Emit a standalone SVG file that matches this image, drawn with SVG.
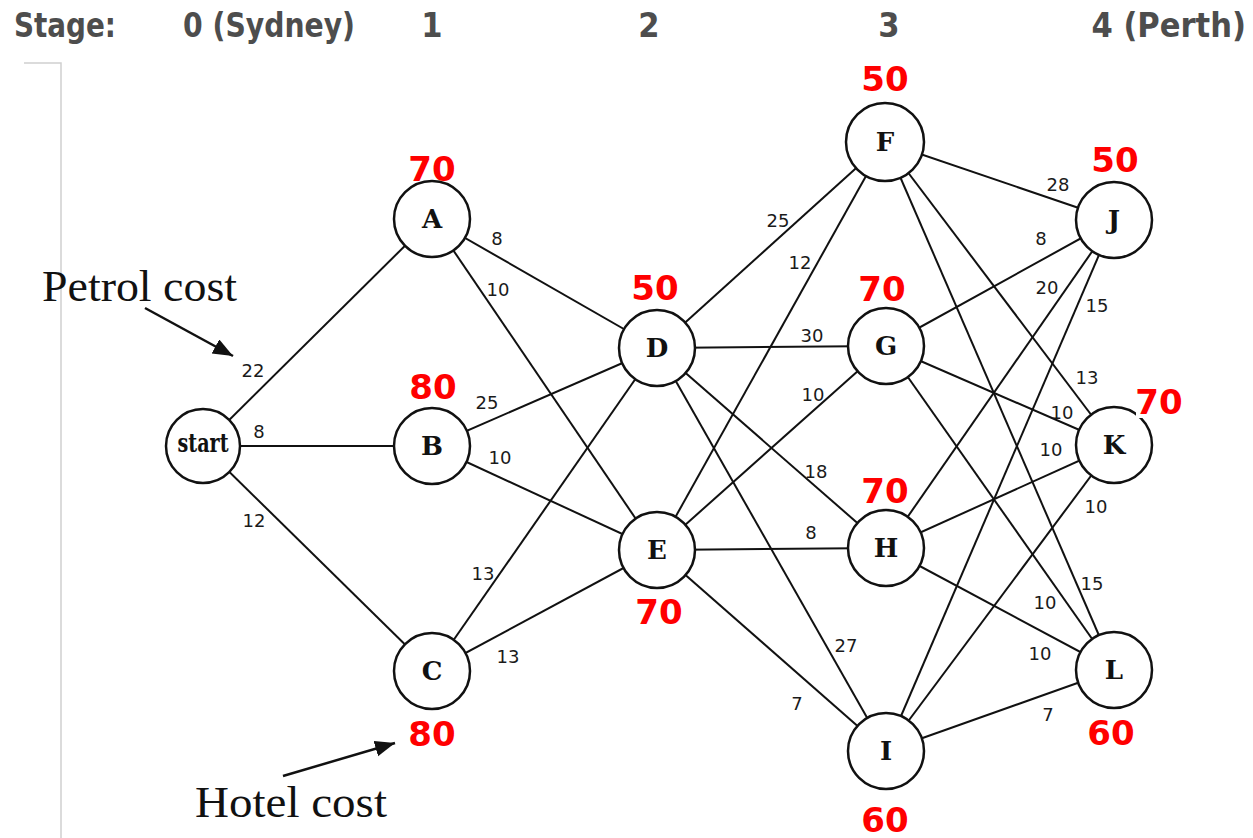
<svg xmlns="http://www.w3.org/2000/svg" width="1253" height="838" viewBox="0 0 1253 838">
<defs>
<style>
.hdr{font-family:"DejaVu Sans Condensed","DejaVu Sans","Liberation Sans",sans-serif;font-weight:bold;font-size:34px;fill:#4d4d4d}
.edge{stroke:#111;stroke-width:2;fill:none}
.node{fill:#fff;stroke:#111;stroke-width:2.5}
.nl{font-family:"DejaVu Serif","Liberation Serif",serif;font-weight:bold;font-size:26px;fill:#111;text-anchor:middle}
.wl{font-family:"DejaVu Sans","Liberation Sans",sans-serif;font-size:18px;fill:#1a1a1a;text-anchor:middle}
.cost{font-family:"DejaVu Sans","Liberation Sans",sans-serif;font-weight:bold;font-size:34px;fill:#ff0000;text-anchor:middle}
.note{font-family:"Liberation Serif","DejaVu Serif",serif;font-size:44px;fill:#111}
</style>
<marker id="ah" markerUnits="userSpaceOnUse" markerWidth="22" markerHeight="18" refX="20" refY="8" orient="auto">
<path d="M0,0 L20,8 L0,16 Z" fill="#111"/>
</marker>
</defs>
<rect width="1253" height="838" fill="#fff"/>
<g id="frame">
<polyline points="24,63 61,63 61,838" fill="none" stroke="#d0d0d0" stroke-width="1.5"/>
</g>
<g id="header">
<text class="hdr" x="14" y="37" textLength="102" lengthAdjust="spacingAndGlyphs">Stage:</text>
<text class="hdr" x="183" y="37" textLength="172" lengthAdjust="spacingAndGlyphs">0 (Sydney)</text>
<text class="hdr" x="432" y="37" text-anchor="middle">1</text>
<text class="hdr" x="649" y="37" text-anchor="middle">2</text>
<text class="hdr" x="889" y="37" text-anchor="middle">3</text>
<text class="hdr" x="1246" y="37" text-anchor="end" font-size="31">4 (Perth)</text>
</g>
<g id="connectors">
<line class="edge" x1="203" y1="446" x2="432" y2="219"/>
<line class="edge" x1="203" y1="446" x2="432" y2="446"/>
<line class="edge" x1="203" y1="446" x2="432" y2="671"/>
<line class="edge" x1="432" y1="219" x2="657" y2="348"/>
<line class="edge" x1="432" y1="219" x2="657" y2="550"/>
<line class="edge" x1="432" y1="446" x2="657" y2="348"/>
<line class="edge" x1="432" y1="446" x2="657" y2="550"/>
<line class="edge" x1="432" y1="671" x2="657" y2="348"/>
<line class="edge" x1="432" y1="671" x2="657" y2="550"/>
<line class="edge" x1="657" y1="348" x2="885" y2="142"/>
<line class="edge" x1="657" y1="550" x2="885" y2="142"/>
<line class="edge" x1="657" y1="348" x2="886" y2="346"/>
<line class="edge" x1="657" y1="550" x2="886" y2="346"/>
<line class="edge" x1="657" y1="348" x2="886" y2="548"/>
<line class="edge" x1="657" y1="550" x2="886" y2="548"/>
<line class="edge" x1="657" y1="348" x2="886" y2="751"/>
<line class="edge" x1="657" y1="550" x2="886" y2="751"/>
<line class="edge" x1="885" y1="142" x2="1114" y2="220"/>
<line class="edge" x1="886" y1="346" x2="1114" y2="220"/>
<line class="edge" x1="886" y1="548" x2="1114" y2="220"/>
<line class="edge" x1="886" y1="751" x2="1114" y2="220"/>
<line class="edge" x1="885" y1="142" x2="1114" y2="445"/>
<line class="edge" x1="886" y1="346" x2="1114" y2="445"/>
<line class="edge" x1="886" y1="548" x2="1114" y2="445"/>
<line class="edge" x1="886" y1="751" x2="1114" y2="445"/>
<line class="edge" x1="885" y1="142" x2="1114" y2="670"/>
<line class="edge" x1="886" y1="346" x2="1114" y2="670"/>
<line class="edge" x1="886" y1="548" x2="1114" y2="670"/>
<line class="edge" x1="886" y1="751" x2="1114" y2="670"/>
</g>
<g id="edge-labels">
<text class="wl" x="253" y="377">22</text>
<text class="wl" x="259" y="438">8</text>
<text class="wl" x="254" y="527">12</text>
<text class="wl" x="497" y="245">8</text>
<text class="wl" x="498" y="296">10</text>
<text class="wl" x="487" y="409">25</text>
<text class="wl" x="500" y="464">10</text>
<text class="wl" x="483" y="580">13</text>
<text class="wl" x="508" y="663">13</text>
<text class="wl" x="778" y="227">25</text>
<text class="wl" x="800" y="269">12</text>
<text class="wl" x="812" y="342">30</text>
<text class="wl" x="813" y="401">10</text>
<text class="wl" x="816" y="478">18</text>
<text class="wl" x="811" y="539">8</text>
<text class="wl" x="846" y="652">27</text>
<text class="wl" x="797" y="710">7</text>
<text class="wl" x="1058" y="191">28</text>
<text class="wl" x="1041" y="245">8</text>
<text class="wl" x="1047" y="294">20</text>
<text class="wl" x="1097" y="312">15</text>
<text class="wl" x="1087" y="384">13</text>
<text class="wl" x="1062" y="419">10</text>
<text class="wl" x="1051" y="456">10</text>
<text class="wl" x="1096" y="513">10</text>
<text class="wl" x="1092" y="590">15</text>
<text class="wl" x="1045" y="609">10</text>
<text class="wl" x="1040" y="660">10</text>
<text class="wl" x="1048" y="721">7</text>
</g>
<g id="node-start"><circle class="node" cx="203" cy="446" r="37"/><text class="nl" x="203" y="452" font-size="19" textLength="51" lengthAdjust="spacingAndGlyphs">start</text></g>
<g id="node-A"><circle class="node" cx="432" cy="219" r="38"/><text class="nl" x="432" y="228">A</text></g>
<g id="node-B"><circle class="node" cx="432" cy="446" r="38"/><text class="nl" x="432" y="455">B</text></g>
<g id="node-C"><circle class="node" cx="432" cy="671" r="38"/><text class="nl" x="432" y="680">C</text></g>
<g id="node-D"><circle class="node" cx="657" cy="348" r="38"/><text class="nl" x="657" y="357">D</text></g>
<g id="node-E"><circle class="node" cx="657" cy="550" r="38"/><text class="nl" x="657" y="559">E</text></g>
<g id="node-F"><circle class="node" cx="885" cy="142" r="39"/><text class="nl" x="885" y="151">F</text></g>
<g id="node-G"><circle class="node" cx="886" cy="346" r="38"/><text class="nl" x="886" y="355">G</text></g>
<g id="node-H"><circle class="node" cx="886" cy="548" r="38"/><text class="nl" x="886" y="557">H</text></g>
<g id="node-I"><circle class="node" cx="886" cy="751" r="38"/><text class="nl" x="886" y="760">I</text></g>
<g id="node-J"><circle class="node" cx="1114" cy="220" r="38"/><text class="nl" x="1114" y="229">J</text></g>
<g id="node-K"><circle class="node" cx="1114" cy="445" r="38"/><text class="nl" x="1114" y="454">K</text></g>
<g id="node-L"><circle class="node" cx="1114" cy="670" r="38"/><text class="nl" x="1114" y="679">L</text></g>
<g id="hotel-costs">
<text class="cost" x="432" y="181">70</text>
<text class="cost" x="433" y="399">80</text>
<text class="cost" x="432" y="746">80</text>
<text class="cost" x="655" y="300">50</text>
<text class="cost" x="659" y="624">70</text>
<text class="cost" x="885" y="91">50</text>
<text class="cost" x="882" y="301">70</text>
<text class="cost" x="885" y="503">70</text>
<text class="cost" x="885" y="832">60</text>
<text class="cost" x="1115" y="172">50</text>
<rect x="1136" y="386" width="46" height="32" fill="#fff"/>
<text class="cost" x="1159" y="414">70</text>
<text class="cost" x="1111" y="745">60</text>
</g>
<g id="annotations">
<text class="note" x="42" y="301" textLength="195" lengthAdjust="spacingAndGlyphs">Petrol cost</text>
<line x1="145" y1="308" x2="233" y2="356" stroke="#111" stroke-width="2.5" marker-end="url(#ah)"/>
<text class="note" x="195" y="817" textLength="192" lengthAdjust="spacingAndGlyphs">Hotel cost</text>
<line x1="283" y1="776" x2="395" y2="743" stroke="#111" stroke-width="2.5" marker-end="url(#ah)"/>
</g>
</svg>
